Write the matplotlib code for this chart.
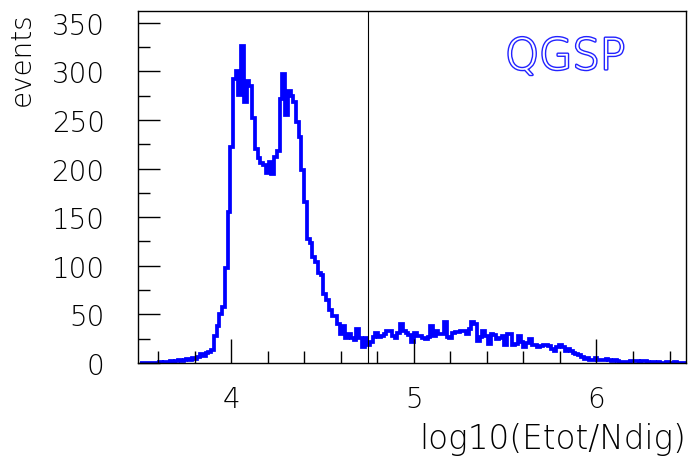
import numpy as np
import matplotlib
matplotlib.use("Agg")
import matplotlib.pyplot as plt
from matplotlib import patheffects as pe

# Histogram of log10(Etot/Ndig): 200 bins between 3.5 and 6.5
x_min, x_max, n_bins = 3.5, 6.5, 200
counts = [
    0, 0, 0, 0, 0, 0, 0, 1, 0, 1,
    1, 2, 1, 2, 3, 2, 3, 4, 3, 5,
    4, 6, 9, 7, 10, 11, 13, 28, 38, 50,
    58, 98, 155, 222, 292, 300, 276, 326, 268, 290,
    285, 252, 220, 211, 206, 204, 195, 207, 194, 212,
    218, 272, 297, 255, 280, 275, 268, 248, 232, 198,
    166, 128, 123, 109, 104, 93, 91, 71, 65, 55,
    48, 48, 40, 30, 38, 26, 30, 26, 24, 35,
    26, 16, 26, 18, 22, 27, 31, 27, 28, 30,
    33, 33, 28, 26, 31, 40, 33, 31, 29, 22,
    31, 28, 28, 26, 25, 27, 38, 28, 33, 30,
    30, 42, 27, 26, 31, 32, 32, 33, 33, 30,
    35, 42, 40, 23, 27, 33, 28, 20, 30, 29,
    25, 26, 28, 19, 30, 30, 19, 20, 28, 22,
    16, 21, 25, 19, 18, 16, 17, 18, 18, 17,
    14, 12, 16, 18, 16, 12, 14, 12, 10, 9,
    8, 6, 4, 5, 3, 3, 5, 3, 3, 3,
    4, 3, 2, 3, 2, 1, 1, 1, 1, 2,
    2, 2, 1, 2, 2, 1, 0, 1, 0, 1,
    0, 0, 1, 0, 0, 1, 0, 0, 0, 0,
]
cut_value = 4.75
model_label = "QGSP"
x_label = "log10(Etot/Ndig)"
y_label = "events"

edges = np.linspace(x_min, x_max, n_bins + 1)

W, H = 688, 460
fig = plt.figure(figsize=(W / 100, H / 100), dpi=100)
ax = fig.add_axes([138 / W, (H - 364) / H, (686 - 138) / W, (364 - 12) / H])

family = ["DejaVu Sans"]
weight = "light"
text_color = "black"
fsize = 20

ax.stairs(counts, edges, baseline=0, color="#0000ff", linewidth=2.7)
ax.axvline(cut_value, color="black", linewidth=0.8)

ax.set_xlim(3.49, 6.49)
ax.set_ylim(0, 362)

ax.set_xticks([4, 5, 6])
ax.set_xticks(np.arange(3.6, 6.5, 0.2), minor=True)
ax.set_yticks(np.arange(0, 351, 50))
ax.set_yticks(np.arange(25, 351, 50), minor=True)

ax.tick_params(which="both", direction="in", top=False, right=False, width=1.0, color="black")
ax.tick_params(axis="x", which="major", length=17, pad=16)
ax.tick_params(axis="x", which="minor", length=8.5)
ax.tick_params(axis="y", which="major", length=16, pad=24)
ax.tick_params(axis="y", which="minor", length=8.5)

for lab in ax.get_xticklabels() + ax.get_yticklabels():
    lab.set_fontfamily(family)
    lab.set_fontweight(weight)
    lab.set_fontsize(fsize)
    lab.set_color(text_color)

for s in ax.spines.values():
    s.set_linewidth(1.0)
    s.set_color("black")

fig.text(686 / W, (H - 440) / H, x_label, ha="right", va="center",
         fontsize=23.5, color=text_color, family=family, weight=weight)
fig.text(22 / W, (H - 12) / H, y_label, ha="center", va="top", rotation=90,
         fontsize=fsize, color=text_color, family=family, weight=weight)

ax.text(0.78, 0.87, model_label, transform=ax.transAxes, ha="center", va="center",
        fontsize=31, color="white", family=family, weight=weight,
        path_effects=[pe.Stroke(linewidth=2.0, foreground="#2222ff"), pe.Normal()])

fig.savefig("out.png", dpi=100)
